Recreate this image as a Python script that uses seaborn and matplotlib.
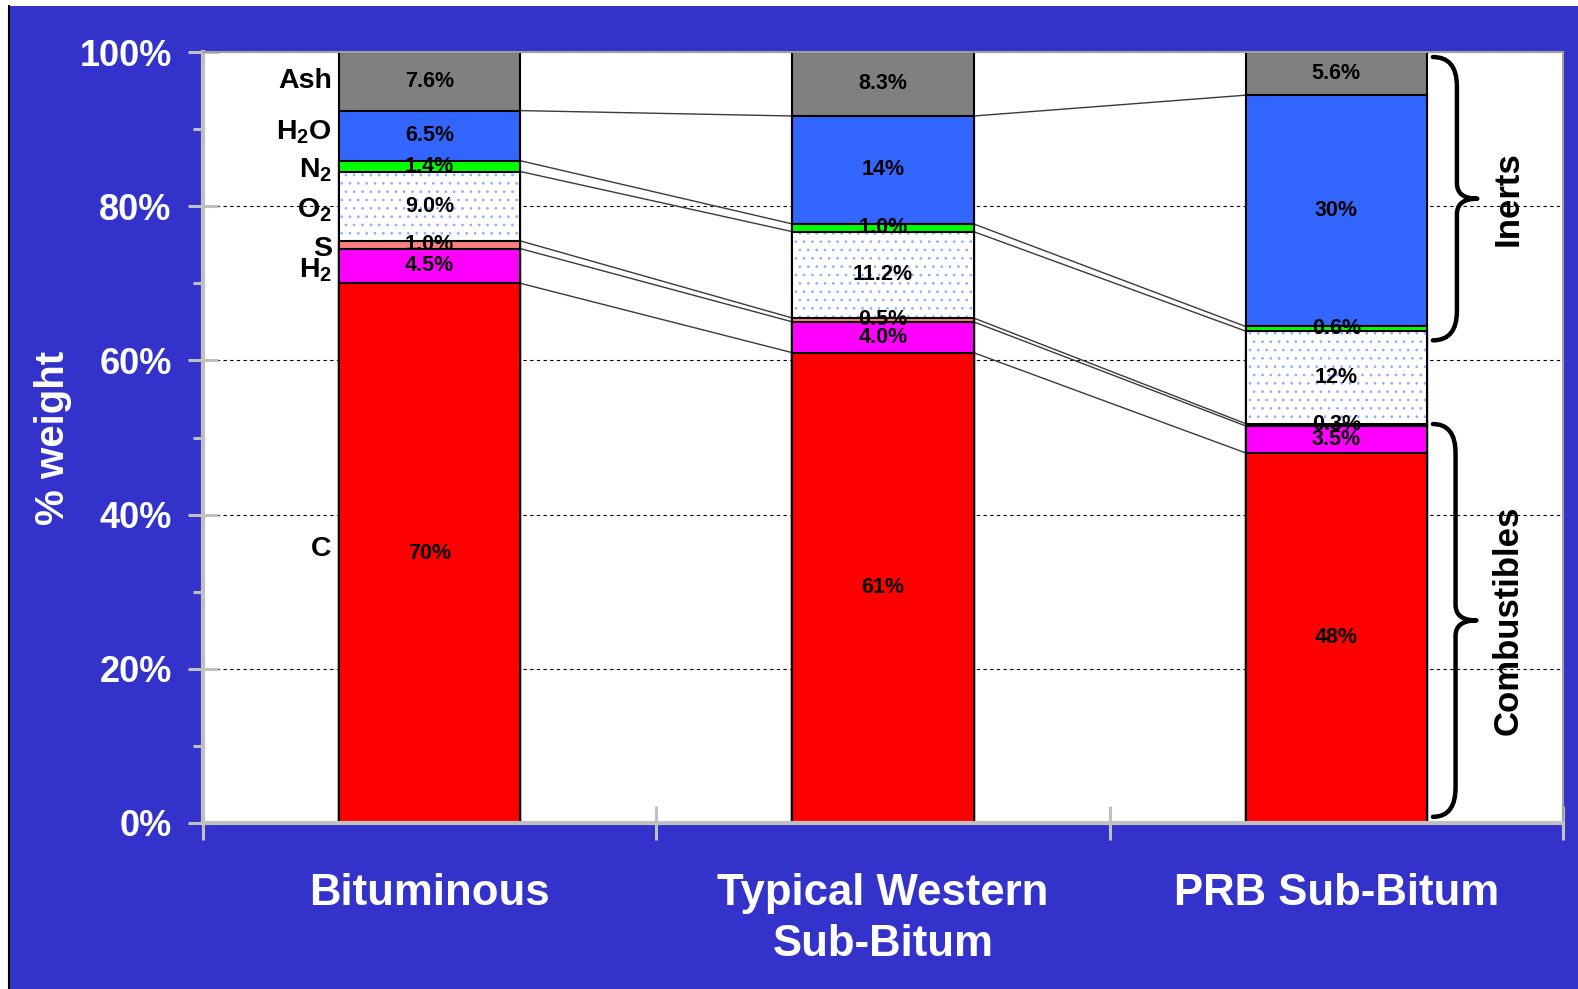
import numpy as np
import pandas as pd
import matplotlib
matplotlib.use("Agg")
import matplotlib.pyplot as plt
import seaborn as sns
from matplotlib.path import Path
from matplotlib.patches import PathPatch, Rectangle
from matplotlib.lines import Line2D

# Coal ultimate analysis, % by weight
categories = ["Bituminous", "Typical Western\nSub-Bitum", "PRB Sub-Bitum"]
components = ["C", "H$_2$", "S", "O$_2$", "N$_2$", "H$_2$O", "Ash"]
carbon = [70, 61, 48]
hydrogen = [4.5, 4.0, 3.5]
sulfur = [1.0, 0.5, 0.3]
oxygen = [9.0, 11.2, 12]
nitrogen = [1.4, 1.0, 0.6]
moisture = [6.5, 14, 30]
ash = [7.6, 8.3, 5.6]
y_ticks = [0, 20, 40, 60, 80, 100]
y_tick_labels = ["0%", "20%", "40%", "60%", "80%", "100%"]

layer_colors = ["#FF0000", "#FF00FF", "#FF8080", "#FFFFFF", "#00FF00", "#3366FF", "#808080"]
# small vertical nudges (in % units) for the component names so they don't collide
name_nudge = [0.5, -0.5, -0.5, -0.5, -0.6, 0.5, 0.0]

plt.rcParams["font.family"] = ["Liberation Sans", "DejaVu Sans"]
plt.rcParams["font.weight"] = "bold"
plt.rcParams["mathtext.default"] = "regular"
plt.rcParams["hatch.linewidth"] = 0.7

W, H = 1578, 989
fig = plt.figure(figsize=(W / 100, H / 100), dpi=100, facecolor="white")
# blue slide background with black left rule
fig.patches.append(Rectangle((8.5 / W, 0), 1 - 8.5 / W, 1 - 6 / H, transform=fig.transFigure,
                             facecolor="#3333CC", edgecolor="none", zorder=-10))
fig.lines.append(Line2D([8.5 / W, 8.5 / W], [0, 1 - 6 / H], transform=fig.transFigure,
                        color="black", lw=1.5, zorder=-9))

ax = fig.add_axes([203 / W, 1 - 823 / H, 1360 / W, 771 / H])
ax.set_facecolor("white")
ax.set_axisbelow(True)

stack = np.array([carbon, hydrogen, sulfur, oxygen, nitrogen, moisture, ash], dtype=float)
tops = stack.cumsum(axis=0)
bottoms = tops - stack
bar_w = 0.4

# Stacked bars: draw cumulative totals from the top layer down so each covers the one below
for k in reversed(range(len(components))):
    df = pd.DataFrame({"coal": categories, "pct": tops[k]})
    if components[k] == "O$_2$":
        sns.barplot(data=df, x="coal", y="pct", color="white", saturation=1, width=bar_w,
                    edgecolor="#8AADFF", linewidth=0, hatch="..", errorbar=None, ax=ax, zorder=2)
        sns.barplot(data=df, x="coal", y="pct", color="black", fill=False, width=bar_w,
                    linewidth=1.5, errorbar=None, ax=ax, zorder=2)
    else:
        sns.barplot(data=df, x="coal", y="pct", color=layer_colors[k], saturation=1, width=bar_w,
                    edgecolor="black", linewidth=1.5, errorbar=None, ax=ax, zorder=2)

# Series lines joining segment boundaries between neighbouring bars
for k in range(len(components) - 1):
    for i in range(len(categories) - 1):
        ax.plot([i + bar_w / 2, i + 1 - bar_w / 2], [tops[k][i], tops[k][i + 1]],
                color="#3a3a3a", lw=1.0, zorder=1.5)

# Segment value labels
def fmt(v):
    return f"{v:.0f}%" if v >= 12 and float(v).is_integer() else f"{v:.1f}%"

for k in range(len(components)):
    for i in range(len(categories)):
        ax.text(i, (bottoms[k][i] + tops[k][i]) / 2, fmt(stack[k][i]), ha="center", va="center",
                fontsize=15.5, fontweight="bold", color="black", zorder=4)

# Component names beside the first bar
for k, name in enumerate(components):
    ax.text(-bar_w / 2 - 0.016, (bottoms[k][0] + tops[k][0]) / 2 + name_nudge[k], name,
            ha="right", va="center", fontsize=20.5, fontweight="bold", color="black", zorder=4)

# Curly braces grouping inerts and combustibles
def brace(x0, x1, x2, ytop, ybot, d, dt):
    ymid = (ytop + ybot) / 2
    verts = [(x0, ytop), (x1, ytop), (x1, ytop - d), (x1, ymid + dt), (x1, ymid), (x2, ymid),
             (x1, ymid), (x1, ymid - dt), (x1, ybot + d), (x1, ybot), (x0, ybot)]
    codes = [Path.MOVETO, Path.CURVE3, Path.CURVE3, Path.LINETO, Path.CURVE3, Path.CURVE3,
             Path.CURVE3, Path.CURVE3, Path.LINETO, Path.CURVE3, Path.CURVE3]
    ax.add_patch(PathPatch(Path(verts, codes), fill=False, lw=3.2, edgecolor="black",
                           capstyle="round", joinstyle="round", clip_on=False, zorder=5))
    return ymid

m1 = brace(2.213, 2.266, 2.311, 99.35, 62.6, 3.8, 2.0)
m2 = brace(2.213, 2.263, 2.309, 51.75, 0.8, 3.8, 2.0)
ax.text(2.378, m1, "Inerts", rotation=90, ha="center", va="center", fontsize=25,
        fontweight="bold", color="black", zorder=5)
ax.text(2.378, m2, "Combustibles", rotation=90, ha="center", va="center", fontsize=25,
        fontweight="bold", color="black", zorder=5)

# Axes styling
ax.set_xlim(-0.5, 2.5)
ax.set_ylim(0, 100)
ax.set_yticks(y_ticks)
ax.set_yticklabels(y_tick_labels)
ax.set_yticks(np.arange(10, 100, 20), minor=True)
ax.set_xticks(range(len(categories)))
ax.set_xticklabels(categories, linespacing=1.3)
ax.set_xticks(np.arange(-0.5, 3, 1.0), minor=True)
ax.set_xlabel("")
ax.set_ylabel("% weight", fontsize=29, fontweight="bold", color="white", va="center")
ax.yaxis.set_label_coords(-0.110, 0.5)

ax.tick_params(axis="y", which="major", direction="inout", length=21, width=2.2, color="#C0C0C0",
               labelsize=26, labelcolor="white", pad=12)
ax.tick_params(axis="y", which="minor", direction="out", length=7, width=2.2, color="#C0C0C0")
ax.tick_params(axis="x", which="major", direction="in", length=9, width=2.2, color="#C0C0C0",
               labelsize=31.5, labelcolor="white", pad=36)
ax.tick_params(axis="x", which="minor", direction="inout", length=24, width=2.2, color="#C0C0C0")
for lab in ax.get_xticklabels() + ax.get_yticklabels():
    lab.set_fontweight("bold")

ax.yaxis.grid(True, which="major", linestyle=(0, (3, 3)), color="black", lw=0.8)
ax.xaxis.grid(False)
for side in ["left", "bottom"]:
    ax.spines[side].set_color("#C0C0C0")
    ax.spines[side].set_linewidth(3)
for side in ["top", "right"]:
    ax.spines[side].set_color("#A0A0A0")
    ax.spines[side].set_linewidth(1.5)

fig.savefig("out.png", dpi=100, facecolor=fig.get_facecolor())
